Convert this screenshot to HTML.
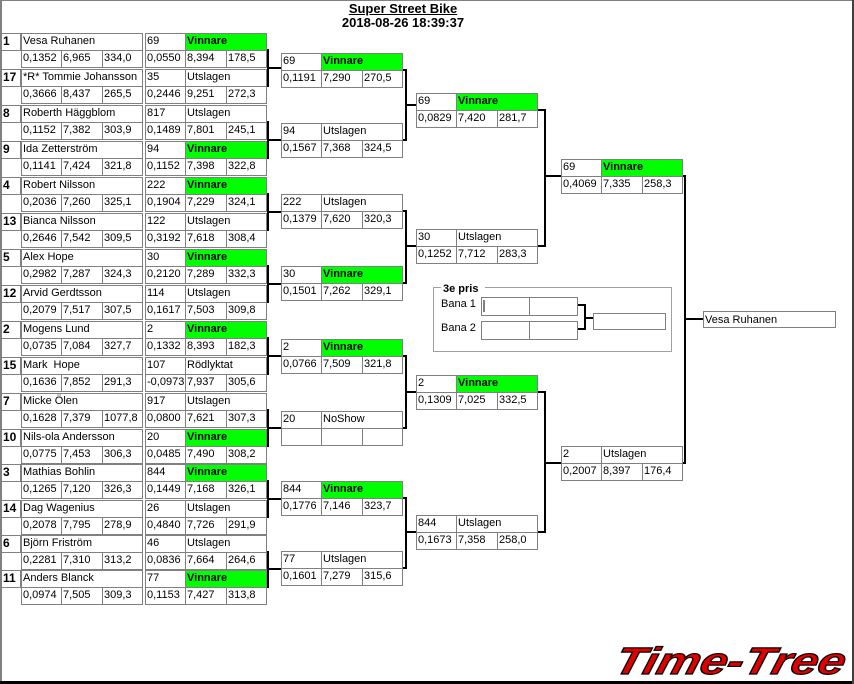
<!DOCTYPE html>
<html><head><meta charset="utf-8"><style>
body{margin:0;background:#fff}
#pg{position:relative;width:854px;height:684px;overflow:hidden;background:#fff;font-family:"Liberation Sans",sans-serif;font-size:11px;color:#000}
.c{position:absolute;border:1px solid #808080;height:18px;box-sizing:border-box;line-height:15px;padding-left:1px;white-space:nowrap;overflow:hidden;background:#fff}
.sd{left:1px;width:20px;font-weight:bold;font-size:12px}
.w{position:absolute;width:122px;height:35px}
.nm{left:0;top:0;width:122px}
.p0{left:0;top:0;width:41px}.p1{left:40px;top:0;width:82px}
.q0{left:0;top:17px;width:41px}.q1{left:40px;top:17px;width:42px}.q2{left:81px;top:17px;width:41px}
.g{background:#00ff00;font-weight:bold}
.e{position:absolute;left:0;width:270px;height:36px}
svg{position:absolute;left:0;top:0}
</style></head><body><div id="pg">
<div style="position:absolute;left:0;top:0;width:854px;height:1px;background:#808080"></div>
<div style="position:absolute;left:0;top:0;width:2px;height:684px;background:#808080"></div>
<div style="position:absolute;left:0;top:681px;width:854px;height:3px;background:#000"></div>
<div style="position:absolute;left:852px;top:0;width:2px;height:684px;background:#404040"></div>
<div style="position:absolute;left:303px;top:2px;width:200px;text-align:center;font-weight:bold;font-size:13px;line-height:14px"><u>Super Street Bike</u><br>2018-08-26 18:39:37</div>

<svg width="854" height="684"><g stroke="#000" stroke-width="2" fill="none">
<path d="M266 50H268V86H266M268 68H281"/>
<path d="M266 122H268V158H266M268 140H281"/>
<path d="M266 194H268V230H266M268 212H281"/>
<path d="M266 266H268V302H266M268 284H281"/>
<path d="M266 338H268V374H266M268 356H281"/>
<path d="M266 410H268V446H266M268 428H281"/>
<path d="M266 481H268V517H266M268 499H281"/>
<path d="M266 552H268V587H266M268 569H281"/>
<path d="M401 70H406V140H401M406 105H416"/>
<path d="M401 211H406V283H401M406 246H416"/>
<path d="M401 356H406V428H401M406 392H416"/>
<path d="M401 498H406V568H401M406 532H416"/>
<path d="M538 110H545V246H538M545 176H561"/>
<path d="M538 392H545V532H538M545 463H561"/>
<path d="M682 176H685V463H682M685 319H703"/>
<path d="M577 305H585V329H577M585 318H593"/>
</g>
<rect x="433.5" y="287.5" width="238" height="64" fill="none" stroke="#a0a0a0"/>
<rect x="441" y="281" width="44" height="10" fill="#fff"/>
<text x="443" y="292" font-family="Liberation Sans" font-weight="bold" font-size="11">3e pris</text>
<text x="441" y="307" font-family="Liberation Sans" font-size="11">Bana 1</text>
<text x="441" y="331" font-family="Liberation Sans" font-size="11">Bana 2</text>
<g fill="#fff" stroke="#808080"><rect x="481.5" y="297.5" width="48" height="18"/><rect x="529.5" y="297.5" width="48" height="18"/>
<rect x="481.5" y="321.5" width="48" height="18"/><rect x="529.5" y="321.5" width="48" height="18"/>
<rect x="593.5" y="313.5" width="72" height="16"/><rect x="703.5" y="311.5" width="132" height="16"/></g>
<line x1="484" y1="300" x2="484" y2="312" stroke="#000"/>
<text x="705" y="323" font-family="Liberation Sans" font-size="11">Vesa Ruhanen</text>
<text x="843" y="674" text-anchor="end" font-family="Liberation Sans" font-weight="bold" font-style="italic" font-size="38" fill="#e00000" stroke="#000" stroke-width="1.2" transform="skewX(-15) translate(180,0)" textLength="230" lengthAdjust="spacingAndGlyphs">Time-Tree</text>
</svg>

<div class="e" style="top:33px"><div class="c sd" style="top:0">1</div><div class="w" style="left:21px"><div class="c nm">Vesa Ruhanen</div><div class="c q0">0,1352</div><div class="c q1">6,965</div><div class="c q2">334,0</div></div><div class="w" style="left:145px"><div class="c p0">69</div><div class="c p1 g">Vinnare</div><div class="c q0">0,0550</div><div class="c q1">8,394</div><div class="c q2">178,5</div></div></div>
<div class="e" style="top:69px"><div class="c sd" style="top:0">17</div><div class="w" style="left:21px"><div class="c nm">*R* Tommie Johansson</div><div class="c q0">0,3666</div><div class="c q1">8,437</div><div class="c q2">265,5</div></div><div class="w" style="left:145px"><div class="c p0">35</div><div class="c p1">Utslagen</div><div class="c q0">0,2446</div><div class="c q1">9,251</div><div class="c q2">272,3</div></div></div>
<div class="e" style="top:105px"><div class="c sd" style="top:0">8</div><div class="w" style="left:21px"><div class="c nm">Roberth Häggblom</div><div class="c q0">0,1152</div><div class="c q1">7,382</div><div class="c q2">303,9</div></div><div class="w" style="left:145px"><div class="c p0">817</div><div class="c p1">Utslagen</div><div class="c q0">0,1489</div><div class="c q1">7,801</div><div class="c q2">245,1</div></div></div>
<div class="e" style="top:141px"><div class="c sd" style="top:0">9</div><div class="w" style="left:21px"><div class="c nm">Ida Zetterström</div><div class="c q0">0,1141</div><div class="c q1">7,424</div><div class="c q2">321,8</div></div><div class="w" style="left:145px"><div class="c p0">94</div><div class="c p1 g">Vinnare</div><div class="c q0">0,1152</div><div class="c q1">7,398</div><div class="c q2">322,8</div></div></div>
<div class="e" style="top:177px"><div class="c sd" style="top:0">4</div><div class="w" style="left:21px"><div class="c nm">Robert Nilsson</div><div class="c q0">0,2036</div><div class="c q1">7,260</div><div class="c q2">325,1</div></div><div class="w" style="left:145px"><div class="c p0">222</div><div class="c p1 g">Vinnare</div><div class="c q0">0,1904</div><div class="c q1">7,229</div><div class="c q2">324,1</div></div></div>
<div class="e" style="top:213px"><div class="c sd" style="top:0">13</div><div class="w" style="left:21px"><div class="c nm">Bianca Nilsson</div><div class="c q0">0,2646</div><div class="c q1">7,542</div><div class="c q2">309,5</div></div><div class="w" style="left:145px"><div class="c p0">122</div><div class="c p1">Utslagen</div><div class="c q0">0,3192</div><div class="c q1">7,618</div><div class="c q2">308,4</div></div></div>
<div class="e" style="top:249px"><div class="c sd" style="top:0">5</div><div class="w" style="left:21px"><div class="c nm">Alex Hope</div><div class="c q0">0,2982</div><div class="c q1">7,287</div><div class="c q2">324,3</div></div><div class="w" style="left:145px"><div class="c p0">30</div><div class="c p1 g">Vinnare</div><div class="c q0">0,2120</div><div class="c q1">7,289</div><div class="c q2">332,3</div></div></div>
<div class="e" style="top:285px"><div class="c sd" style="top:0">12</div><div class="w" style="left:21px"><div class="c nm">Arvid Gerdtsson</div><div class="c q0">0,2079</div><div class="c q1">7,517</div><div class="c q2">307,5</div></div><div class="w" style="left:145px"><div class="c p0">114</div><div class="c p1">Utslagen</div><div class="c q0">0,1617</div><div class="c q1">7,503</div><div class="c q2">309,8</div></div></div>
<div class="e" style="top:321px"><div class="c sd" style="top:0">2</div><div class="w" style="left:21px"><div class="c nm">Mogens Lund</div><div class="c q0">0,0735</div><div class="c q1">7,084</div><div class="c q2">327,7</div></div><div class="w" style="left:145px"><div class="c p0">2</div><div class="c p1 g">Vinnare</div><div class="c q0">0,1332</div><div class="c q1">8,393</div><div class="c q2">182,3</div></div></div>
<div class="e" style="top:357px"><div class="c sd" style="top:0">15</div><div class="w" style="left:21px"><div class="c nm">Mark&nbsp; Hope</div><div class="c q0">0,1636</div><div class="c q1">7,852</div><div class="c q2">291,3</div></div><div class="w" style="left:145px"><div class="c p0">107</div><div class="c p1">Rödlyktat</div><div class="c q0">-0,0973</div><div class="c q1">7,937</div><div class="c q2">305,6</div></div></div>
<div class="e" style="top:393px"><div class="c sd" style="top:0">7</div><div class="w" style="left:21px"><div class="c nm">Micke Ölen</div><div class="c q0">0,1628</div><div class="c q1">7,379</div><div class="c q2">1077,8</div></div><div class="w" style="left:145px"><div class="c p0">917</div><div class="c p1">Utslagen</div><div class="c q0">0,0800</div><div class="c q1">7,621</div><div class="c q2">307,3</div></div></div>
<div class="e" style="top:429px"><div class="c sd" style="top:0">10</div><div class="w" style="left:21px"><div class="c nm">Nils-ola Andersson</div><div class="c q0">0,0775</div><div class="c q1">7,453</div><div class="c q2">306,3</div></div><div class="w" style="left:145px"><div class="c p0">20</div><div class="c p1 g">Vinnare</div><div class="c q0">0,0485</div><div class="c q1">7,490</div><div class="c q2">308,2</div></div></div>
<div class="e" style="top:464px"><div class="c sd" style="top:0">3</div><div class="w" style="left:21px"><div class="c nm">Mathias Bohlin</div><div class="c q0">0,1265</div><div class="c q1">7,120</div><div class="c q2">326,3</div></div><div class="w" style="left:145px"><div class="c p0">844</div><div class="c p1 g">Vinnare</div><div class="c q0">0,1449</div><div class="c q1">7,168</div><div class="c q2">326,1</div></div></div>
<div class="e" style="top:500px"><div class="c sd" style="top:0">14</div><div class="w" style="left:21px"><div class="c nm">Dag Wagenius</div><div class="c q0">0,2078</div><div class="c q1">7,795</div><div class="c q2">278,9</div></div><div class="w" style="left:145px"><div class="c p0">26</div><div class="c p1">Utslagen</div><div class="c q0">0,4840</div><div class="c q1">7,726</div><div class="c q2">291,9</div></div></div>
<div class="e" style="top:535px"><div class="c sd" style="top:0">6</div><div class="w" style="left:21px"><div class="c nm">Björn Friström</div><div class="c q0">0,2281</div><div class="c q1">7,310</div><div class="c q2">313,2</div></div><div class="w" style="left:145px"><div class="c p0">46</div><div class="c p1">Utslagen</div><div class="c q0">0,0836</div><div class="c q1">7,664</div><div class="c q2">264,6</div></div></div>
<div class="e" style="top:570px"><div class="c sd" style="top:0">11</div><div class="w" style="left:21px"><div class="c nm">Anders Blanck</div><div class="c q0">0,0974</div><div class="c q1">7,505</div><div class="c q2">309,3</div></div><div class="w" style="left:145px"><div class="c p0">77</div><div class="c p1 g">Vinnare</div><div class="c q0">0,1153</div><div class="c q1">7,427</div><div class="c q2">313,8</div></div></div>

<div class="w" style="left:281px;top:53px"><div class="c p0">69</div><div class="c p1 g">Vinnare</div><div class="c q0">0,1191</div><div class="c q1">7,290</div><div class="c q2">270,5</div></div>
<div class="w" style="left:281px;top:123px"><div class="c p0">94</div><div class="c p1">Utslagen</div><div class="c q0">0,1567</div><div class="c q1">7,368</div><div class="c q2">324,5</div></div>
<div class="w" style="left:281px;top:194px"><div class="c p0">222</div><div class="c p1">Utslagen</div><div class="c q0">0,1379</div><div class="c q1">7,620</div><div class="c q2">320,3</div></div>
<div class="w" style="left:281px;top:266px"><div class="c p0">30</div><div class="c p1 g">Vinnare</div><div class="c q0">0,1501</div><div class="c q1">7,262</div><div class="c q2">329,1</div></div>
<div class="w" style="left:281px;top:339px"><div class="c p0">2</div><div class="c p1 g">Vinnare</div><div class="c q0">0,0766</div><div class="c q1">7,509</div><div class="c q2">321,8</div></div>
<div class="w" style="left:281px;top:411px"><div class="c p0">20</div><div class="c p1">NoShow</div><div class="c q0"></div><div class="c q1"></div><div class="c q2"></div></div>
<div class="w" style="left:281px;top:481px"><div class="c p0">844</div><div class="c p1 g">Vinnare</div><div class="c q0">0,1776</div><div class="c q1">7,146</div><div class="c q2">323,7</div></div>
<div class="w" style="left:281px;top:551px"><div class="c p0">77</div><div class="c p1">Utslagen</div><div class="c q0">0,1601</div><div class="c q1">7,279</div><div class="c q2">315,6</div></div>

<div class="w" style="left:416px;top:93px"><div class="c p0">69</div><div class="c p1 g">Vinnare</div><div class="c q0">0,0829</div><div class="c q1">7,420</div><div class="c q2">281,7</div></div>
<div class="w" style="left:416px;top:229px"><div class="c p0">30</div><div class="c p1">Utslagen</div><div class="c q0">0,1252</div><div class="c q1">7,712</div><div class="c q2">283,3</div></div>
<div class="w" style="left:416px;top:375px"><div class="c p0">2</div><div class="c p1 g">Vinnare</div><div class="c q0">0,1309</div><div class="c q1">7,025</div><div class="c q2">332,5</div></div>
<div class="w" style="left:416px;top:515px"><div class="c p0">844</div><div class="c p1">Utslagen</div><div class="c q0">0,1673</div><div class="c q1">7,358</div><div class="c q2">258,0</div></div>

<div class="w" style="left:561px;top:159px"><div class="c p0">69</div><div class="c p1 g">Vinnare</div><div class="c q0">0,4069</div><div class="c q1">7,335</div><div class="c q2">258,3</div></div>
<div class="w" style="left:561px;top:446px"><div class="c p0">2</div><div class="c p1">Utslagen</div><div class="c q0">0,2007</div><div class="c q1">8,397</div><div class="c q2">176,4</div></div>
</div></body></html>
